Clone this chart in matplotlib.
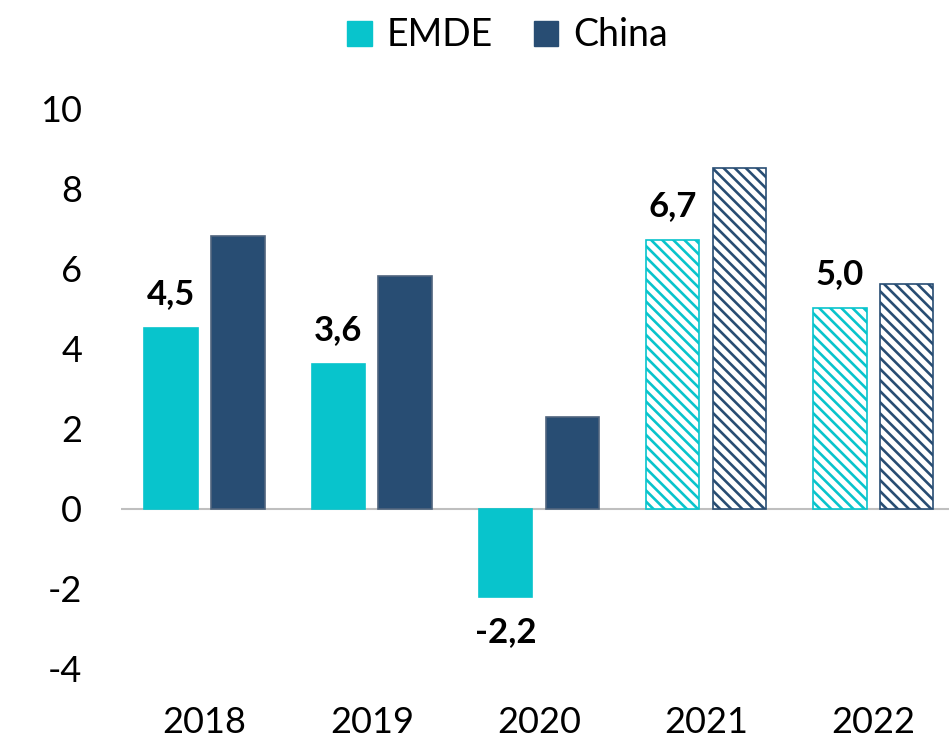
import matplotlib
matplotlib.use("Agg")
import matplotlib.pyplot as plt
import numpy as np
from matplotlib.patches import Patch

years = ["2018", "2019", "2020", "2021", "2022"]
emde = [4.5, 3.6, -2.2, 6.7, 5.0]
china = [6.8, 5.8, 2.3, 8.5, 5.6]
emde_labels = ["4,5", "3,6", "-2,2", "6,7", "5,0"]
forecast = [False, False, False, True, True]
yticks = [-4, -2, 0, 2, 4, 6, 8, 10]

CYAN = "#08C4CC"
NAVY = "#284D73"

plt.rcParams['font.family'] = ['Lato', 'DejaVu Sans']
plt.rcParams['hatch.linewidth'] = 1.9

fig = plt.figure(figsize=(9.49, 7.40), dpi=100)
ax = fig.add_axes([0.1275, 0.096, 0.872, 0.758])

x = np.arange(len(years))
w = 0.32
off = 0.2

bars_e = ax.bar(x - off, emde, w, color=CYAN, edgecolor=CYAN, linewidth=1.2, zorder=2)
bars_c = ax.bar(x + off, china, w, color=NAVY, edgecolor="#50657E", linewidth=1.2, zorder=2)

for i, f in enumerate(forecast):
    if f:
        p = bars_e[i]
        p.set_facecolor("white")
        p.set_edgecolor(CYAN)
        p.set_hatch("\\\\\\")
        p = bars_c[i]
        p.set_facecolor("white")
        p.set_edgecolor(NAVY)
        p.set_hatch("\\\\\\")

ax.axhline(0, color="#BFBFBF", linewidth=1.5, zorder=1)

for i, (v, lab) in enumerate(zip(emde, emde_labels)):
    if v >= 0:
        ax.annotate(lab, (x[i] - off, v), xytext=(0, 13), textcoords="offset points",
                    ha="center", va="bottom", fontsize=25, fontweight="bold", color="black")
    else:
        ax.annotate(lab, (x[i] - off, v), xytext=(0, -14), textcoords="offset points",
                    ha="center", va="top", fontsize=25, fontweight="bold", color="black")

ax.set_xlim(-0.5, 4.45)
ax.set_ylim(-4, 10)
ax.set_yticks(yticks)
ax.set_yticklabels([str(t) for t in yticks])
ax.set_xticks(x)
ax.set_xticklabels(years)
ax.tick_params(axis="both", length=0, labelsize=26, colors="black")
ax.tick_params(axis="y", pad=28)
ax.tick_params(axis="x", pad=27)
for s in ax.spines.values():
    s.set_visible(False)

handles = [Patch(facecolor=CYAN, edgecolor=CYAN), Patch(facecolor=NAVY, edgecolor=NAVY)]
fig.legend(handles, ["EMDE", "China"], loc="upper center", bbox_to_anchor=(0.535, 1.022),
           ncol=2, frameon=False, fontsize=27, handlelength=0.65, handleheight=0.65,
           handletextpad=0.4, columnspacing=1.1)

fig.savefig("out.png", dpi=100)
